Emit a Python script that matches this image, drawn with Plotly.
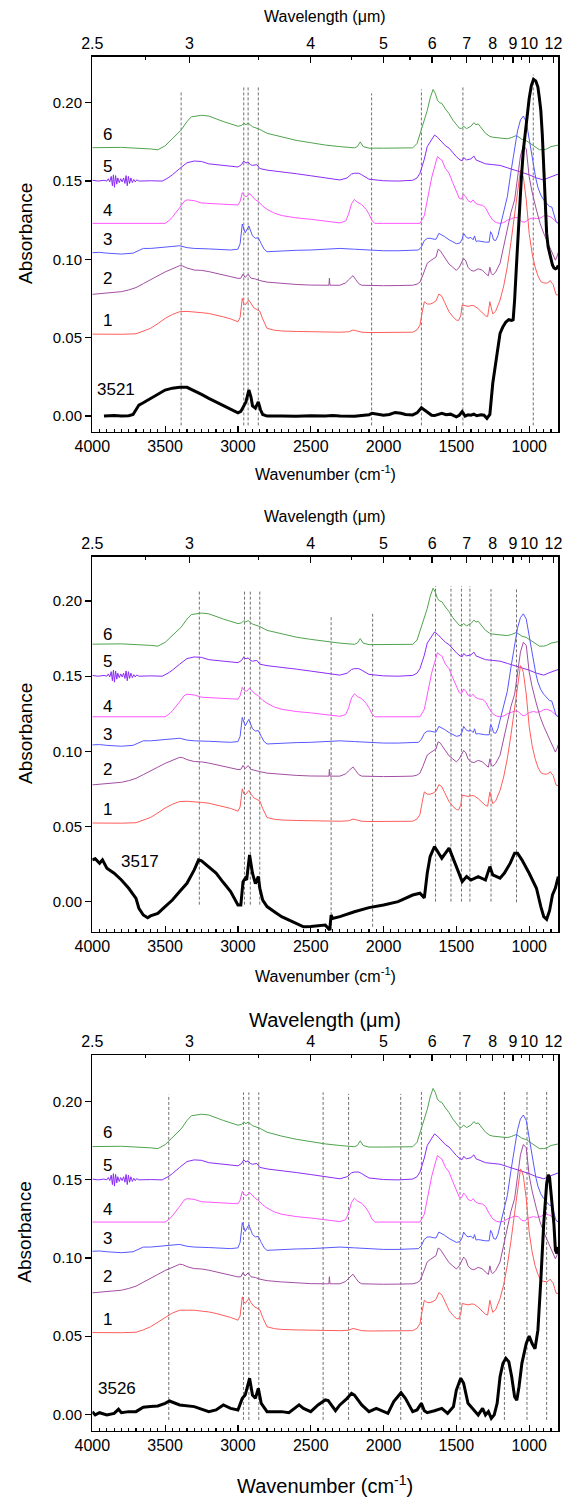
import plotly.graph_objects as go

# ---------------- laboratory spectra (same in every panel) ----------------
wn6 = [4000,3800,3600,3550,3500,3450,3390,3350,3320,3250,3200,3100,3000,2975,2960,2945,2930,2900,2850,2800,2700,2600,2500,2400,2300,2200,2180,2160,2140,2100,2000,1900,1800,1770,1750,1720,1700,1680,1660,1645,1630,1615,1600,1575,1550,1525,1500,1480,1465,1450,1430,1400,1380,1365,1350,1320,1300,1270,1250,1200,1150,1120,1090,1070,1050,1020,1000,970,950,930,900,880,850,800]
ab6 = [0.1713,0.1715,0.1705,0.170,0.1725,0.177,0.1826,0.188,0.191,0.192,0.1915,0.188,0.185,0.1855,0.187,0.186,0.187,0.1847,0.183,0.1805,0.178,0.176,0.1745,0.173,0.172,0.1712,0.172,0.175,0.172,0.171,0.171,0.171,0.1712,0.174,0.180,0.188,0.195,0.203,0.2085,0.206,0.2017,0.200,0.1996,0.196,0.193,0.189,0.186,0.1838,0.1836,0.185,0.1835,0.185,0.1873,0.186,0.1865,0.183,0.1805,0.1785,0.178,0.1775,0.177,0.1778,0.179,0.178,0.1766,0.1758,0.1745,0.173,0.1715,0.170,0.170,0.1705,0.172,0.173]

wn5 = [4000,3960,3920,3900,3890,3880,3870,3862,3855,3848,3840,3832,3825,3815,3805,3795,3785,3776,3768,3760,3752,3744,3735,3725,3715,3705,3695,3680,3600,3520,3480,3450,3400,3350,3300,3250,3200,3100,3000,2975,2960,2945,2930,2915,2900,2870,2850,2800,2700,2600,2500,2400,2300,2250,2220,2200,2170,2150,2120,2100,2000,1900,1800,1770,1750,1720,1700,1670,1650,1630,1600,1575,1550,1525,1500,1475,1460,1450,1430,1400,1380,1365,1350,1300,1250,1200,1150,1100,1050,1000,950,920,900,870,850,800]
ab5 = [0.1505,0.150,0.1505,0.150,0.1515,0.1495,0.153,0.147,0.154,0.146,0.1535,0.148,0.152,0.149,0.1515,0.1495,0.152,0.1485,0.1535,0.147,0.153,0.1485,0.152,0.149,0.151,0.1495,0.1508,0.150,0.1502,0.150,0.152,0.154,0.158,0.1617,0.1628,0.1625,0.161,0.1598,0.159,0.1605,0.1628,0.1615,0.1622,0.1605,0.160,0.1605,0.158,0.157,0.156,0.1547,0.1534,0.152,0.1507,0.152,0.1545,0.155,0.155,0.154,0.152,0.1512,0.1502,0.150,0.1505,0.152,0.155,0.164,0.172,0.177,0.1794,0.178,0.175,0.1725,0.171,0.168,0.1656,0.1635,0.163,0.165,0.1635,0.1642,0.166,0.1635,0.163,0.161,0.1605,0.160,0.1585,0.157,0.1558,0.154,0.152,0.151,0.1507,0.152,0.1528,0.1545]

wn4 = [4000,3800,3600,3500,3470,3450,3400,3370,3350,3300,3250,3200,3100,3000,2985,2970,2955,2940,2920,2900,2880,2860,2830,2800,2750,2700,2600,2500,2400,2300,2260,2240,2220,2200,2180,2150,2120,2100,2080,2060,2000,1900,1750,1720,1700,1670,1650,1630,1610,1600,1575,1550,1525,1500,1480,1465,1450,1435,1420,1400,1385,1370,1350,1320,1300,1275,1250,1225,1200,1175,1150,1120,1100,1075,1050,1030,1000,970,950,920,900,880,850,820,800]
ab4 = [0.123,0.123,0.123,0.123,0.125,0.127,0.133,0.137,0.138,0.1375,0.136,0.1357,0.135,0.1347,0.137,0.1426,0.1405,0.140,0.142,0.140,0.138,0.137,0.134,0.132,0.1295,0.128,0.1265,0.1256,0.1245,0.1233,0.1245,0.129,0.1355,0.1383,0.1365,0.135,0.132,0.129,0.125,0.123,0.123,0.123,0.123,0.128,0.138,0.152,0.159,0.1656,0.164,0.1635,0.158,0.155,0.149,0.143,0.139,0.1385,0.1415,0.140,0.1375,0.1365,0.138,0.136,0.135,0.1345,0.133,0.1285,0.125,0.1235,0.123,0.1235,0.125,0.126,0.1268,0.1265,0.124,0.1238,0.1258,0.1265,0.126,0.1265,0.1277,0.128,0.127,0.1245,0.123]

wn3 = [4000,3950,3900,3800,3720,3680,3650,3600,3550,3500,3450,3400,3350,3300,3200,3100,3050,3000,2985,2970,2960,2950,2925,2910,2900,2880,2860,2840,2820,2800,2700,2600,2500,2400,2300,2200,2100,2000,1900,1800,1760,1740,1720,1700,1680,1660,1640,1620,1600,1580,1550,1520,1500,1475,1460,1450,1435,1420,1400,1385,1375,1365,1350,1300,1275,1265,1255,1245,1230,1215,1200,1175,1150,1125,1100,1080,1060,1040,1020,1000,985,970,955,940,920,900,880,860,845,830,815,800]
ab3 = [0.1043,0.1045,0.104,0.1034,0.104,0.106,0.107,0.107,0.1075,0.108,0.1085,0.1087,0.1075,0.107,0.1067,0.1064,0.106,0.1065,0.110,0.1226,0.119,0.117,0.1213,0.118,0.115,0.1135,0.1138,0.110,0.1065,0.1049,0.1055,0.1058,0.106,0.1065,0.107,0.1065,0.1058,0.1055,0.1055,0.1058,0.106,0.108,0.112,0.1134,0.1135,0.113,0.1128,0.1166,0.1158,0.1145,0.1125,0.111,0.110,0.1105,0.113,0.1166,0.1145,0.1135,0.114,0.1125,0.115,0.1115,0.1118,0.111,0.111,0.1177,0.116,0.1125,0.112,0.115,0.121,0.130,0.140,0.156,0.172,0.182,0.189,0.1915,0.188,0.176,0.167,0.159,0.152,0.146,0.141,0.138,0.1355,0.1337,0.1335,0.128,0.124,0.123]

wn2 = [4000,3900,3800,3750,3700,3650,3600,3550,3500,3450,3400,3380,3350,3300,3250,3200,3150,3100,3050,3000,2980,2965,2950,2930,2910,2880,2850,2800,2700,2600,2500,2400,2375,2372,2368,2300,2260,2240,2220,2210,2190,2170,2150,2100,2000,1900,1800,1770,1750,1730,1700,1680,1660,1640,1625,1610,1600,1575,1550,1525,1500,1480,1460,1450,1435,1420,1400,1380,1350,1320,1300,1280,1270,1260,1250,1230,1200,1175,1150,1125,1100,1080,1060,1040,1020,1000,980,950,925,900,875,850,830,820,810,800]
ab2 = [0.0777,0.0785,0.0794,0.0805,0.082,0.0845,0.0868,0.0895,0.092,0.094,0.096,0.0958,0.0945,0.0932,0.093,0.0922,0.091,0.090,0.089,0.0879,0.088,0.0906,0.0885,0.0905,0.088,0.0875,0.0865,0.0855,0.0847,0.084,0.0836,0.0835,0.0835,0.088,0.0835,0.0835,0.085,0.087,0.089,0.0896,0.087,0.0845,0.0835,0.0833,0.0832,0.0833,0.0835,0.0842,0.0855,0.090,0.0975,0.099,0.1005,0.1015,0.1064,0.1055,0.104,0.1005,0.097,0.095,0.093,0.095,0.099,0.1006,0.099,0.095,0.093,0.0925,0.094,0.093,0.091,0.0895,0.095,0.091,0.090,0.092,0.0975,0.108,0.120,0.130,0.138,0.152,0.166,0.1726,0.1705,0.1528,0.143,0.1315,0.123,0.1166,0.111,0.106,0.1015,0.0995,0.1015,0.1045]

wn1 = [4000,3900,3800,3700,3650,3600,3550,3500,3450,3400,3350,3300,3250,3200,3150,3100,3050,3000,2985,2970,2960,2950,2925,2910,2890,2870,2850,2830,2810,2800,2750,2700,2600,2500,2400,2300,2240,2210,2190,2150,2100,2000,1900,1800,1770,1750,1735,1720,1700,1680,1660,1640,1620,1600,1580,1550,1525,1500,1485,1470,1460,1440,1420,1400,1380,1350,1320,1300,1285,1270,1260,1250,1230,1200,1175,1150,1125,1100,1085,1070,1060,1050,1040,1020,1000,980,960,940,920,900,880,865,855,845,835,825,815,800]
ab1 = [0.0523,0.0522,0.0522,0.0525,0.054,0.056,0.059,0.0623,0.0648,0.0666,0.0668,0.0666,0.066,0.0655,0.0645,0.0633,0.062,0.0602,0.063,0.0751,0.072,0.071,0.074,0.0715,0.069,0.068,0.067,0.062,0.0575,0.056,0.0548,0.0543,0.054,0.0538,0.0536,0.0535,0.0538,0.0549,0.0545,0.0535,0.0533,0.0533,0.0532,0.0535,0.055,0.058,0.066,0.073,0.0715,0.0715,0.0722,0.0735,0.0779,0.0765,0.0725,0.0665,0.0635,0.0613,0.061,0.064,0.0709,0.0705,0.070,0.0705,0.0705,0.0685,0.066,0.064,0.0635,0.073,0.069,0.0652,0.067,0.074,0.083,0.0953,0.111,0.129,0.142,0.1528,0.157,0.1555,0.1525,0.138,0.1166,0.104,0.0953,0.0895,0.0858,0.085,0.0848,0.0855,0.0865,0.085,0.084,0.0805,0.0775,0.0772]

# ---------------- astronomical spectra (one per panel) ----------------
wn_3521 = [3920,3850,3800,3750,3720,3700,3680,3650,3600,3550,3500,3450,3400,3350,3300,3250,3200,3150,3100,3050,3000,2980,2960,2945,2925,2910,2900,2880,2860,2845,2830,2800,2700,2600,2500,2400,2350,2300,2200,2150,2100,2080,2050,2000,1960,1920,1880,1850,1800,1770,1740,1720,1700,1670,1650,1620,1600,1570,1540,1500,1480,1460,1440,1420,1400,1380,1360,1330,1310,1290,1270,1250,1235,1220,1200,1180,1160,1140,1120,1110,1100,1085,1070,1055,1040,1020,1000,985,970,955,940,930,920,910,900,890,880,870,860,850,840,830,820,810,800]
ab_3521 = [0.000,0.0003,0.000,0.0002,0.001,0.004,0.007,0.0085,0.0113,0.014,0.0166,0.0178,0.0183,0.0183,0.0162,0.0138,0.0113,0.009,0.007,0.0045,0.002,0.003,0.007,0.009,0.0166,0.012,0.0065,0.005,0.009,0.004,0.001,0.000,0.000,-0.0002,0.0002,0.000,0.0004,0.000,-0.0002,0.0003,0.0008,0.0017,0.0012,0.0005,0.001,0.0023,0.0018,0.001,0.0007,0.002,0.0053,0.004,0.0025,0.0005,0.0003,0.0012,0.0017,0.0008,0.0012,-0.0005,0.0005,0.0028,0.000,0.0008,0.0005,0.0012,0.0002,0.0008,0.0005,-0.0015,0.001,0.0209,0.031,0.040,0.0528,0.057,0.060,0.0615,0.061,0.0615,0.074,0.100,0.127,0.150,0.1698,0.188,0.2028,0.211,0.215,0.214,0.210,0.203,0.195,0.180,0.159,0.137,0.1166,0.108,0.1038,0.099,0.0964,0.0945,0.094,0.0945,0.096]

wn_3517 = [4000,3980,3950,3930,3900,3850,3800,3750,3700,3680,3650,3620,3600,3550,3500,3450,3400,3350,3300,3270,3250,3200,3150,3100,3050,3000,2980,2965,2950,2940,2920,2900,2880,2860,2850,2830,2800,2750,2700,2600,2550,2500,2400,2370,2360,2350,2300,2200,2100,2000,1900,1800,1750,1720,1700,1680,1650,1600,1550,1500,1460,1430,1400,1350,1320,1300,1270,1250,1200,1170,1130,1100,1080,1050,1000,950,920,900,880,860,840,820,800]
ab_3517 = [0.0278,0.0285,0.0255,0.0278,0.0222,0.0189,0.0144,0.0089,0.0022,-0.0044,-0.0089,-0.0107,-0.0095,-0.0078,-0.0033,0.0011,0.0067,0.0122,0.0211,0.0278,0.0272,0.0233,0.019,0.0127,0.0067,-0.0022,-0.0022,0.0133,0.0155,0.0145,0.0311,0.0189,0.012,0.0167,0.009,0.001,-0.0033,-0.0067,-0.010,-0.0144,-0.0167,-0.0165,-0.0156,-0.0189,-0.0089,-0.0112,-0.010,-0.0067,-0.004,-0.0022,0.000,0.0044,0.0056,0.0025,0.0189,0.030,0.0367,0.0289,0.0356,0.0233,0.0133,0.0167,0.0144,0.0167,0.0155,0.0144,0.0233,0.0178,0.0156,0.019,0.0256,0.0322,0.0322,0.0278,0.0189,0.0089,-0.0033,-0.010,-0.0118,-0.006,0.0044,0.009,0.0167]

wn_3526 = [4000,3980,3950,3900,3850,3820,3800,3750,3700,3650,3600,3550,3500,3470,3400,3300,3200,3150,3100,3050,3000,2970,2950,2920,2900,2880,2860,2840,2800,2700,2650,2600,2580,2550,2500,2450,2400,2380,2350,2330,2300,2250,2220,2200,2150,2100,2050,2000,1970,1930,1880,1850,1800,1770,1740,1720,1700,1650,1600,1560,1520,1500,1470,1450,1420,1380,1350,1320,1300,1280,1260,1240,1220,1200,1180,1160,1140,1120,1100,1085,1070,1050,1020,1000,980,960,940,920,900,880,870,860,850,840,830,820,810,800]
ab_3526 = [0.0017,-0.0004,0.001,-0.0004,0.0006,0.0032,0.001,0.0017,0.0017,0.0045,0.005,0.0053,0.007,0.0085,0.006,0.0049,0.0017,0.0028,0.006,0.0038,0.0028,0.0102,0.0123,0.023,0.0123,0.0102,0.0166,0.0070,0.0017,0.0017,0.001,0.0049,0.006,0.0038,0.0017,0.006,0.0092,0.0088,0.0049,0.0023,0.006,0.0102,0.0134,0.0123,0.006,0.0017,0.0038,0.0017,0.0006,0.0081,0.0138,0.0102,0.0017,0.0028,0.007,0.0023,0.001,0.0023,0.0038,0.0006,0.0049,0.0155,0.023,0.0198,0.007,0.0028,-0.0004,0.0038,-0.0004,0.0017,-0.0026,-0.0004,0.007,0.024,0.0326,0.0358,0.0336,0.024,0.0113,0.009,0.0175,0.0326,0.0453,0.050,0.0453,0.042,0.0538,0.0858,0.122,0.1475,0.1532,0.1517,0.143,0.130,0.1215,0.105,0.103,0.107]

# dotted marker lines (wavenumber, top absorbance, bottom absorbance)
vl1_wn  = [3390, 2960, 2930, 2860, 2082, 1740, 1455, 972]
vl1_top = [0.207, 0.210, 0.210, 0.210, 0.206, 0.2085, 0.210, 0.218]
vl1_bot = [-0.006] * 8
vl2_wn  = [3265, 2955, 2915, 2850, 2360, 2075, 1643, 1537, 1465, 1407, 1262, 1087]
vl2_top = [0.207, 0.207, 0.207, 0.207, 0.190, 0.1915, 0.210, 0.210, 0.210, 0.210, 0.208, 0.208]
vl2_bot = [-0.002, -0.002, -0.002, -0.002, -0.019, -0.0167, 0.0, 0.0, 0.0, 0.0, 0.0, -0.0005]
vl3_wn  = [3475, 2962, 2925, 2857, 2415, 2240, 1882, 1740, 1475, 1170, 1015, 880]
vl3_top = [0.2045, 0.206, 0.206, 0.206, 0.206, 0.205, 0.205, 0.2065, 0.2065, 0.2065, 0.2065, 0.207]
vl3_bot = [-0.0036] * 12

# curve labels per panel
lab_names = ["6", "5", "4", "3", "2", "1"]
lab_wn = 3895
lab_y1 = [0.180, 0.159, 0.131, 0.1128, 0.088, 0.0609]
lab_y2 = [0.178, 0.1596, 0.130, 0.111, 0.0876, 0.0616]
lab_y3 = [0.180, 0.1594, 0.1313, 0.1125, 0.088, 0.0607]
astro_names = ["3521", "3517", "3526"]
astro_wn = [3839, 3674, 3832]
astro_y = [0.017, 0.0266, 0.0162]

# top axis: wavelength (micron) ticks
wl_major = [2.5, 3, 4, 5, 6, 7, 8, 9, 10, 12]
wl_major_text = ["2.5", "3", "4", "5", "6", "7", "8", "9", "10", "12"]
wl_minor = [2.75, 3.5, 4.5, 5.5, 6.5, 7.5, 8.5, 9.5, 11]

lab_series = [(wn6, ab6), (wn5, ab5), (wn4, ab4), (wn3, ab3), (wn2, ab2), (wn1, ab1)]
lab_colors = ["#4fa34f", "#8a2cf8", "#ff55ff", "#5858ff", "#a24ea2", "#ff5c5c"]
astro_series = [(wn_3521, ab_3521), (wn_3517, ab_3517), (wn_3526, ab_3526)]

FONT = "Liberation Sans, Arial, sans-serif"
W, H = 573, 1497
XL, XR = 92.3 / W, 558.3 / W
panels_px = [(56.7, 431.7), (556.7, 931.7), (1055.0, 1430.7)]
yranges = [[-0.0100, 0.2294], [-0.0200, 0.2295], [-0.0105, 0.2299]]
title_font = [16, 16, 20]
wl_title_off = [40.7, 40.7, 35.0]
wn_title_off = [41.5, 43.0, 54.0]

fig = go.Figure()
layout = dict(width=W, height=H, margin=dict(l=0, r=0, t=0, b=0, autoexpand=False),
              paper_bgcolor="white", plot_bgcolor="white", showlegend=False,
              font=dict(family=FONT, color="black"))
annotations = []
shapes = []
vls = [(vl1_wn, vl1_top, vl1_bot), (vl2_wn, vl2_top, vl2_bot), (vl3_wn, vl3_top, vl3_bot)]
lab_ys = [lab_y1, lab_y2, lab_y3]

for p in range(3):
    n = p + 1
    xs = "x" if n == 1 else f"x{n}"
    ys = "y" if n == 1 else f"y{n}"
    xt = f"x{n + 3}"
    top_px, bot_px = panels_px[p]
    dom = [1 - bot_px / H, 1 - top_px / H]
    for (wx, ay), col in zip(lab_series, lab_colors):
        fig.add_trace(go.Scatter(x=wx, y=ay, mode="lines", xaxis=xs, yaxis=ys,
                                 line=dict(color=col, width=1), hoverinfo="skip"))
    wx, ay = astro_series[p]
    # the astronomical spectrum is drawn against the (identically scaled) top axis
    fig.add_trace(go.Scatter(x=wx, y=ay, mode="lines", xaxis=xt, yaxis=ys,
                             line=dict(color="black", width=3), hoverinfo="skip"))
    xkey = "xaxis" if n == 1 else f"xaxis{n}"
    ykey = "yaxis" if n == 1 else f"yaxis{n}"
    layout[xkey] = dict(domain=[XL, XR], anchor=ys, range=[4000, 800], autorange=False,
                        automargin=False,
                        showline=True, linecolor="black", linewidth=1.3, mirror=False,
                        ticks="inside", ticklen=6, tickwidth=1.2, tickcolor="black",
                        tick0=0, dtick=500, showgrid=False, zeroline=False,
                        tickfont=dict(size=16, family=FONT),
                        minor=dict(ticks="inside", ticklen=3, dtick=50, tick0=0,
                                   tickcolor="black", showgrid=False))
    layout[ykey] = dict(domain=dom, anchor=xs, range=yranges[p], autorange=False,
                        automargin=False,
                        showline=True, linecolor="black", linewidth=1.3, mirror=True,
                        ticks="outside", ticklen=6, tickwidth=1.2, tickcolor="black",
                        tick0=0, dtick=0.05, tickformat=".2f", showgrid=False, zeroline=False,
                        tickfont=dict(size=15, family=FONT))
    layout[f"xaxis{n + 3}"] = dict(overlaying=xs, anchor=ys, side="top", domain=[XL, XR],
                                   range=[4000, 800], autorange=False, automargin=False,
                                   showline=True, linecolor="black", linewidth=1.3,
                                   ticks="inside", ticklen=6, tickwidth=1.2, tickcolor="black",
                                   tickmode="array", tickvals=[10000 / v for v in wl_major],
                                   ticktext=wl_major_text, showgrid=False, zeroline=False,
                                   tickfont=dict(size=16, family=FONT),
                                   minor=dict(ticks="inside", ticklen=3, tickmode="array",
                                              tickvals=[10000 / v for v in wl_minor],
                                              tickcolor="black", showgrid=False))
    for wv, t, b in zip(*vls[p]):
        shapes.append(dict(type="line", xref=xs, yref=ys, x0=wv, x1=wv, y0=b, y1=t,
                           line=dict(color="#707070", width=1, dash="3px,2px"), layer="below"))
    for name, yy in zip(lab_names, lab_ys[p]):
        annotations.append(dict(xref=xs, yref=ys, x=lab_wn, y=yy, text=name, showarrow=False,
                                font=dict(size=17, family=FONT), xanchor="center", yanchor="middle"))
    annotations.append(dict(xref=xs, yref=ys, x=astro_wn[p], y=astro_y[p], text=astro_names[p],
                            showarrow=False, font=dict(size=17, family=FONT),
                            xanchor="center", yanchor="middle"))
    xc = (XL + XR) / 2
    tf = title_font[p]
    annotations.append(dict(xref="paper", yref="paper", x=xc, y=1 - (top_px - wl_title_off[p]) / H,
                            text="Wavelength (\u03bcm)", showarrow=False,
                            font=dict(size=tf, family=FONT), xanchor="center", yanchor="middle"))
    annotations.append(dict(xref="paper", yref="paper", x=xc, y=1 - (bot_px + wn_title_off[p]) / H,
                            text="Wavenumber (cm<sup>-1</sup>)", showarrow=False,
                            font=dict(size=tf, family=FONT), xanchor="center", yanchor="middle"))
    annotations.append(dict(xref="paper", yref="paper", x=24.8 / W,
                            y=1 - ((top_px + bot_px) / 2 - 11) / H,
                            text="Absorbance", textangle=-90, showarrow=False,
                            font=dict(size=19, family=FONT), xanchor="center", yanchor="middle"))

layout["annotations"] = annotations
layout["shapes"] = shapes
fig.update_layout(**layout)
fig.write_html("out.html",
               config={"displayModeBar": False, "staticPlot": True},
               post_script="document.body.style.margin='0';document.body.style.padding='0';"
                           "document.body.style.overflow='hidden';")
